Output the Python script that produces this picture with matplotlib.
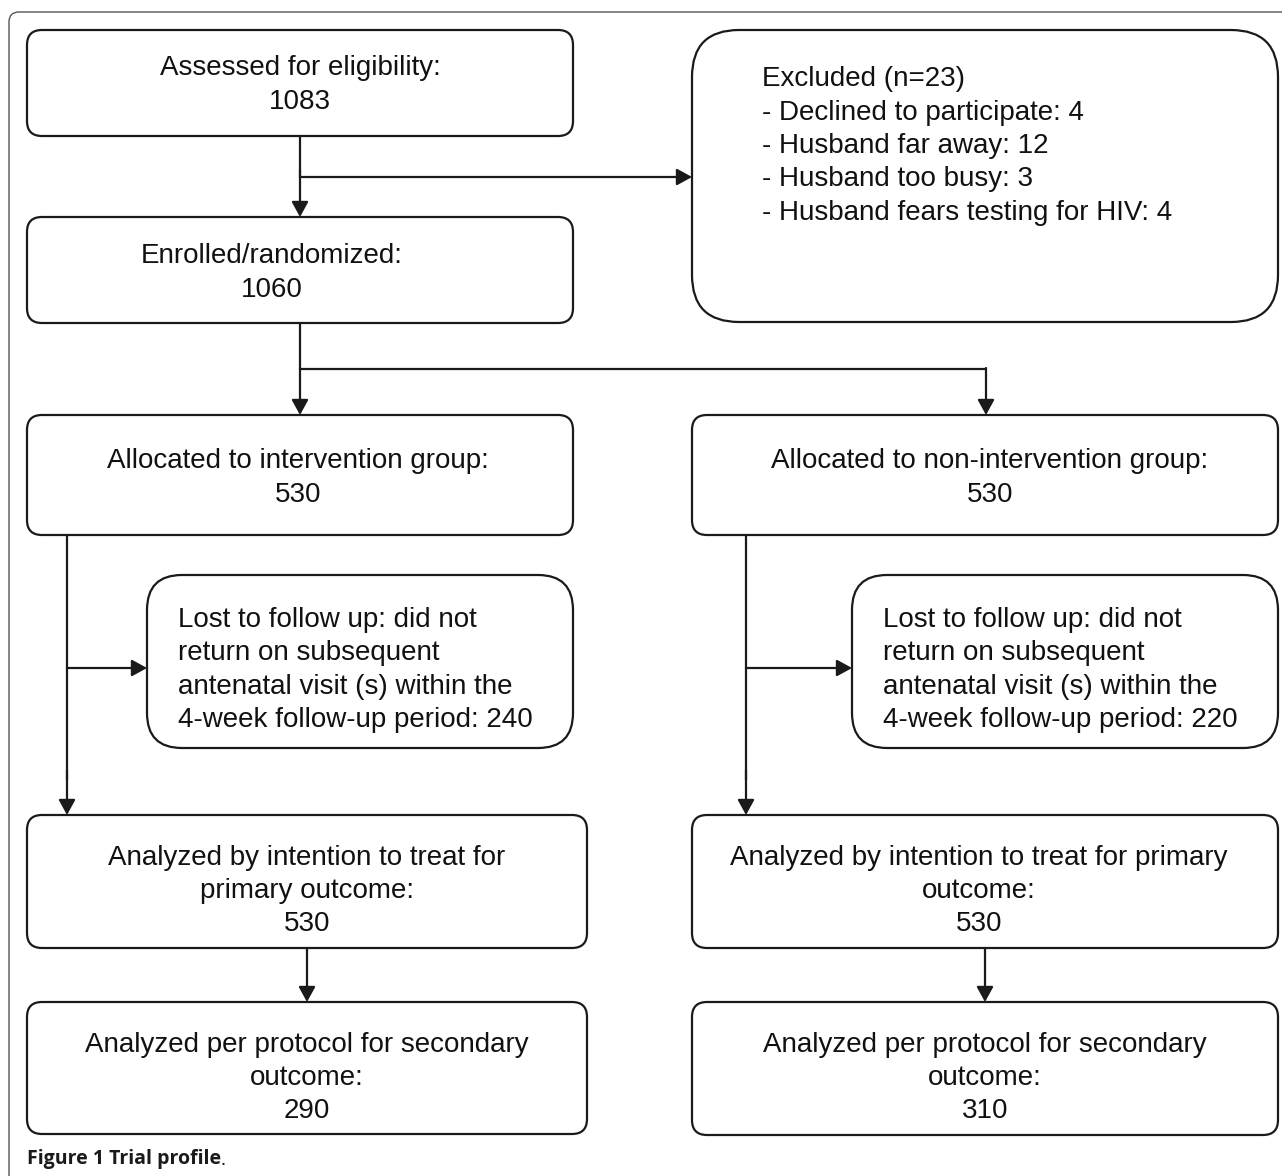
import matplotlib.pyplot as plt
from matplotlib.patches import FancyBboxPatch

# Counts shown in the trial profile
n_assessed = 1083
excl_labels = ["Declined to participate", "Husband far away", "Husband too busy",
               "Husband fears testing for HIV"]
excl_counts = [4, 12, 3, 4]
n_enrolled = 1060
n_alloc = [530, 530]           # intervention, non-intervention
n_lost = [240, 220]
n_itt = [530, 530]
n_pp = [290, 310]

W, H = 1282, 1176
EDGE = "#1a1a1a"
FS = 20
LS = 1.37

fig = plt.figure(figsize=(W / 100, H / 100), dpi=100)
ax = fig.add_axes([0, 0, 1, 1])
ax.set_xlim(0, W)
ax.set_ylim(H, 0)
ax.axis("off")

plt.rcParams["font.family"] = ["Liberation Sans", "DejaVu Sans"]


def box(x0, y0, x1, y1, r, lw=1.6, ec=EDGE):
    p = FancyBboxPatch((x0, y0), x1 - x0, y1 - y0,
                       boxstyle=f"round,pad=0,rounding_size={r}",
                       fc="white", ec=ec, lw=lw)
    ax.add_patch(p)


def line(xs, ys):
    ax.plot(xs, ys, color=EDGE, lw=1.6, solid_capstyle="butt")


def arrow(x0, y0, x1, y1):
    ax.annotate("", xy=(x1, y1), xytext=(x0, y0),
                arrowprops=dict(arrowstyle="-|>,head_length=0.4,head_width=0.22",
                                mutation_scale=23, lw=1.6, color=EDGE,
                                shrinkA=0, shrinkB=0))


def ctext(x, y, s):
    ax.text(x, y, s, ha="center", va="center", fontsize=FS, color="#111111",
            linespacing=LS)


def ltext(x, y, s, va="center"):
    ax.text(x, y, s, ha="left", va=va, fontsize=FS, color="#111111",
            linespacing=LS)


# outer frame (runs off the right and bottom edges)
box(9, 12, W + 40, H + 40, 10, lw=1.0, ec="#555555")

# top row
box(27, 30, 573, 136, 15)
ctext(300, 85, f"Assessed for eligibility:\n{n_assessed}")

box(692, 30, 1278, 322, 47)
excl_text = f"Excluded (n={sum(excl_counts)})\n" + "\n".join(
    f"- {lab}: {c}" for lab, c in zip(excl_labels, excl_counts))
ltext(762, 146, excl_text)

line([300, 300], [136, 177])
arrow(300, 170, 300, 217)
arrow(300, 177, 692, 177)

box(27, 217, 573, 323, 15)
ctext(272, 273, f"Enrolled/randomized:\n{n_enrolled}")

# randomisation split
line([300, 300], [323, 369])
line([300, 986], [369, 369])
arrow(300, 368, 300, 415)
arrow(986, 368, 986, 415)

box(27, 415, 573, 535, 15)
ctext(298, 478, f"Allocated to intervention group:\n{n_alloc[0]}")
box(692, 415, 1278, 535, 15)
ctext(990, 478, f"Allocated to non-intervention group:\n{n_alloc[1]}")

# loss to follow-up
lost_tmpl = ("Lost to follow up: did not\nreturn on subsequent\n"
             "antenatal visit (s) within the\n4-week follow-up period: {}")
for vx, bx0, bx1, n in [(67, 147, 573, n_lost[0]), (746, 852, 1278, n_lost[1])]:
    line([vx, vx], [535, 780])
    arrow(vx, 770, vx, 815)
    arrow(vx, 668, bx0, 668)
    box(bx0, 575, bx1, 748, 35)
    ltext(bx0 + 31, 670, lost_tmpl.format(n))

# analysis boxes
box(27, 815, 587, 948, 15)
ctext(307, 891, f"Analyzed by intention to treat for\nprimary outcome:\n{n_itt[0]}")
box(692, 815, 1278, 948, 15)
ctext(979, 891, f"Analyzed by intention to treat for primary\noutcome:\n{n_itt[1]}")

arrow(307, 948, 307, 1002)
arrow(985, 948, 985, 1002)

box(27, 1002, 587, 1134, 15)
ctext(307, 1078, f"Analyzed per protocol for secondary\noutcome:\n{n_pp[0]}")
box(692, 1002, 1278, 1135, 15)
ctext(985, 1078, f"Analyzed per protocol for secondary\noutcome:\n{n_pp[1]}")

# caption
cap = ax.text(27, 1159, "Figure 1 Trial profile", ha="left", va="center",
              fontsize=14, fontweight="bold", family=["Open Sans", "DejaVu Sans"],
              color="#1a1a1a")
ax.annotate(".", xy=(1, 0), xycoords=cap, ha="left", va="bottom", fontsize=14,
            family=["Open Sans", "DejaVu Sans"], color="#1a1a1a")

fig.savefig("out.png", dpi=100)
